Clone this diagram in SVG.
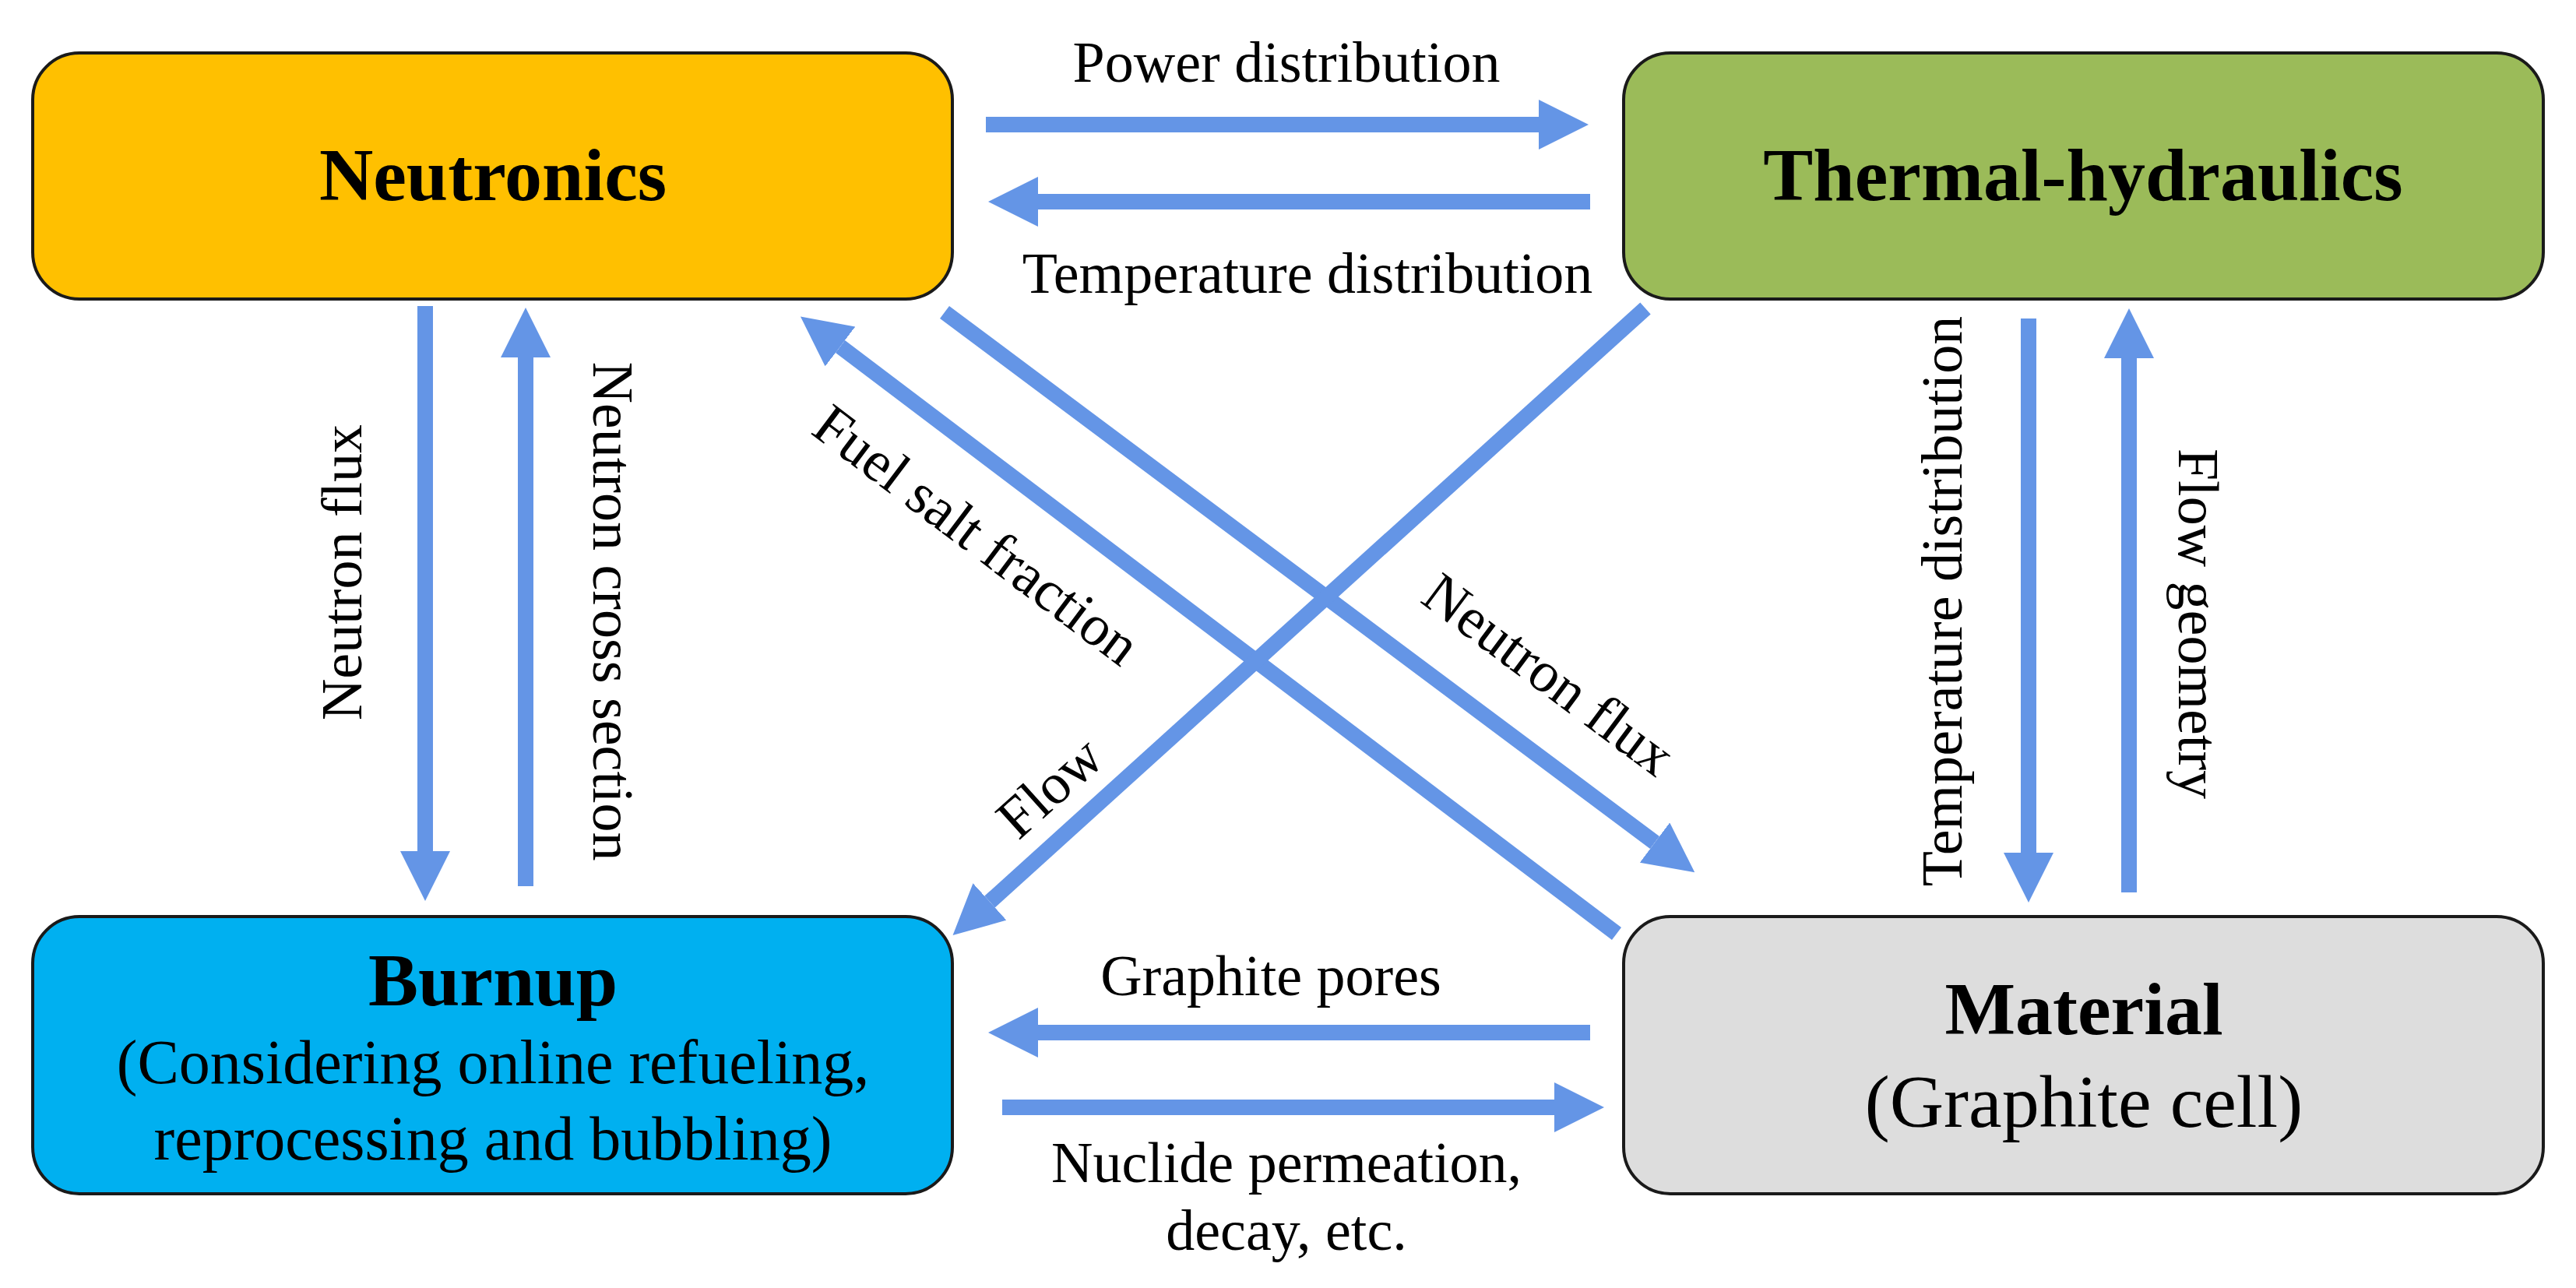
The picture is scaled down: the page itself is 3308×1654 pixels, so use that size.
<svg xmlns="http://www.w3.org/2000/svg" width="3308" height="1654" viewBox="0 0 3308 1654">
<defs>
<style>
.box{stroke:#1a1a1a;stroke-width:4}
.t{font-family:"Liberation Serif","Times New Roman",serif;fill:#000}
.title{font-size:96px;font-weight:bold;text-anchor:middle}
.sub{font-size:80px;text-anchor:middle}
.lbl{font-size:74px;text-anchor:middle}
.arr{stroke:#6495E6;stroke-width:20;fill:none;marker-end:url(#ah)}
</style>
<marker id="ah" markerWidth="3.2" markerHeight="3.2" refX="0" refY="1.6" orient="auto" markerUnits="strokeWidth">
<path d="M0,0 L3.2,1.6 L0,3.2 z" fill="#6495E6"/>
</marker>
</defs>
<rect width="3308" height="1654" fill="#fff"/>
<g id="neutronics"><rect class="box" x="42" y="68" width="1181" height="316" rx="60" fill="#FFC000"/><text class="t title" x="633" y="257">Neutronics</text></g>
<g id="thermal"><rect class="box" x="2085" y="68" width="1181" height="316" rx="60" fill="#9BBB59"/><text class="t title" x="2675" y="257">Thermal-hydraulics</text></g>
<g id="burnup"><rect class="box" x="42" y="1177" width="1181" height="356" rx="60" fill="#00B0F0"/><text class="t title" x="633" y="1291">Burnup</text><text class="t sub" x="633" y="1391">(Considering online refueling,</text><text class="t sub" x="633" y="1489">reprocessing and bubbling)</text></g>
<g id="material"><rect class="box" x="2085" y="1177" width="1181" height="356" rx="60" fill="#DDDDDD"/><text class="t title" x="2676" y="1328">Material</text><text class="t sub" x="2676" y="1447" style="font-size:96px">(Graphite cell)</text></g>
<g id="connectors">
<line class="arr" x1="1266" y1="160" x2="1976" y2="160"/>
<line class="arr" x1="2042" y1="259" x2="1333" y2="259"/>
<line class="arr" x1="2042" y1="1326" x2="1333" y2="1326"/>
<line class="arr" x1="1287" y1="1422" x2="1996" y2="1422"/>
<line class="arr" x1="546" y1="393" x2="546" y2="1093"/>
<line class="arr" x1="675" y1="1138" x2="675" y2="459"/>
<line class="arr" x1="2605" y1="409" x2="2605" y2="1095"/>
<line class="arr" x1="2734" y1="1146" x2="2734" y2="460"/>
<line class="arr" x1="1213" y1="401" x2="2125" y2="1082"/>
<line class="arr" x1="2076" y1="1199" x2="1079" y2="445"/>
<line class="arr" x1="2113" y1="396" x2="1271" y2="1158"/>
</g>
<g id="labels">
<text class="t lbl" x="1652" y="105">Power distribution</text>
<text class="t lbl" x="1679" y="376">Temperature distribution</text>
<text class="t lbl" x="1632" y="1278">Graphite pores</text>
<text class="t lbl" x="1652" y="1518">Nuclide permeation,</text>
<text class="t lbl" x="1652" y="1605">decay, etc.</text>
<text class="t lbl" transform="translate(464,735) rotate(-90)">Neutron flux</text>
<text class="t lbl" transform="translate(762,785) rotate(90)">Neutron cross section</text>
<text class="t lbl" transform="translate(2519,772) rotate(-90)">Temperature distribution</text>
<text class="t lbl" transform="translate(2798,801) rotate(90)">Flow geometry</text>
<text class="t lbl" transform="translate(1255,686) rotate(37)" dy="0.35em">Fuel salt fraction</text>
<text class="t lbl" transform="translate(1990,865) rotate(36.7)" dy="0.35em">Neutron flux</text>
<text class="t lbl" transform="translate(1347,1010) rotate(-42)" dy="0.35em">Flow</text>
</g>
</svg>
